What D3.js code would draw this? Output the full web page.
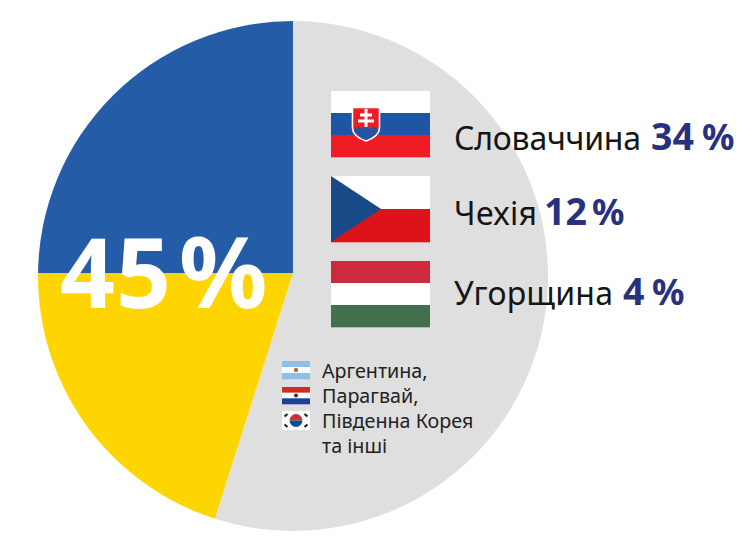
<!DOCTYPE html>
<html><head><meta charset="utf-8">
<script src="https://cdn.jsdelivr.net/npm/d3@7"></script>
<style>html,body{margin:0;padding:0;background:#fff}svg{display:block}text{font-family:"Noto Sans",sans-serif}</style>
</head><body><svg id="c" width="752" height="554"></svg>
<script>
const sliceNames = ["Інші","Жовтий","Синій"];
const sliceValues = [54.9,20.1,25];
const sliceColors = ["#dfdfdf","#ffd500","#255ca8"];
const mainNumber = "45";
const percentSign = "%";
const countries = ["Словаччина","Чехія","Угорщина"];
const shareNumbers = ["34","12","4"];
const others = ["Аргентина,","Парагвай,","Південна Корея","та інші"];

const svg = d3.select("#c");
const cx=293, cy=276, R=255;
svg.append("clipPath").attr("id","disc").append("circle").attr("cx",cx).attr("cy",cy).attr("r",R);
const g = svg.append("g").attr("clip-path","url(#disc)").append("g").attr("transform",`translate(${cx},${cy-3})`);
const pie = d3.pie().sort(null)(sliceValues);
const arc = d3.arc().innerRadius(0).outerRadius(R+8);
g.selectAll("path").data(pie).join("path").attr("d",arc).attr("fill",(d,i)=>sliceColors[i]);

const big=svg.append("text").attr("y",308).attr("font-size",96).attr("font-weight",700).attr("fill","#fff");
big.append("tspan").attr("x",60).attr("letter-spacing",1).text(mainNumber);
big.append("tspan").attr("x",179).attr("font-size",98).text(percentSign);

function stripes(x,y,w,h,cols){
  const b=d3.scaleBand().domain(d3.range(cols.length)).range([y,y+h]);
  svg.append("g").selectAll("rect").data(cols).join("rect")
   .attr("x",x).attr("y",(d,i)=>b(i)).attr("width",w).attr("height",b.bandwidth()+.3).attr("fill",d=>d);
}
// Slovakia
stripes(331,91,99,66,["#ffffff","#1f55a5","#ee1c25"]);
svg.append("path").attr("d","M352.5 107.5H379.5V128Q379.5 136 366 141Q352.5 136 352.5 128Z").attr("fill","#ee1c25").attr("stroke","#fff").attr("stroke-width",1.6);
svg.append("path").attr("d","M354 129Q358 125 362 129Q366 124 370 129Q375 125 378 129Q377 136 366 140Q355 136 354 129Z").attr("fill","#1f55a5");
svg.append("path").attr("d","M366 109V127M360 115H372M358 121H374").attr("stroke","#fff").attr("stroke-width",3).attr("fill","none");
// Czech
stripes(331,176,99,66,["#ffffff","#dc1419"]);
svg.append("path").attr("d","M331 176L381 209L331 242Z").attr("fill","#174a86");
// Hungary
stripes(331,261,99,66,["#cd2a3e","#ffffff","#436f4d"]);
// Argentina
stripes(282,361,28,18,["#8fbfe6","#ffffff","#8fbfe6"]);
svg.append("circle").attr("cx",296).attr("cy",370).attr("r",2.2).attr("fill","#b5722a");
// Paraguay
stripes(282,387,28,17,["#d52b1e","#ffffff","#1f3f94"]);
svg.append("circle").attr("cx",296).attr("cy",395.5).attr("r",2).attr("fill","#333");
// Korea
svg.append("rect").attr("x",282).attr("y",411).attr("width",28).attr("height",19).attr("fill","#fff");
svg.append("path").attr("d","M289.6 420.5A6.4 6.4 0 0 1 302.4 420.5Z").attr("fill","#cd2e3a");
svg.append("path").attr("d","M289.6 420.5A6.4 6.4 0 0 0 302.4 420.5Z").attr("fill","#0f4a94");
svg.append("path").attr("d","M284.5 416.5L287.5 414M304.5 414L307.5 416.5M284.5 424.5L287.5 427M304.5 427L307.5 424.5").attr("stroke","#222").attr("stroke-width",2.2);

const rowY=[150,225,305], numX=[651,544,623], pctX=[702,592,652], nameW=[187,83,159];
countries.forEach((c,i)=>{
  svg.append("text").attr("x",454).attr("y",rowY[i]).attr("font-size",32).attr("textLength",nameW[i]).attr("fill","#151515").text(c);
  const t=svg.append("text").attr("y",rowY[i]).attr("font-weight",700).attr("fill","#28307f");
  t.append("tspan").attr("x",numX[i]).attr("font-size",37.5).text(shareNumbers[i]);
  t.append("tspan").attr("x",pctX[i]).attr("font-size",36).text(percentSign);
});
const ys=d3.scaleLinear().domain([0,3]).range([378,453]);
svg.append("g").selectAll("text").data(others).join("text")
 .attr("x",322).attr("y",(d,i)=>ys(i)).attr("font-size",19.7).attr("fill","#222").text(d=>d);
</script></body></html>
